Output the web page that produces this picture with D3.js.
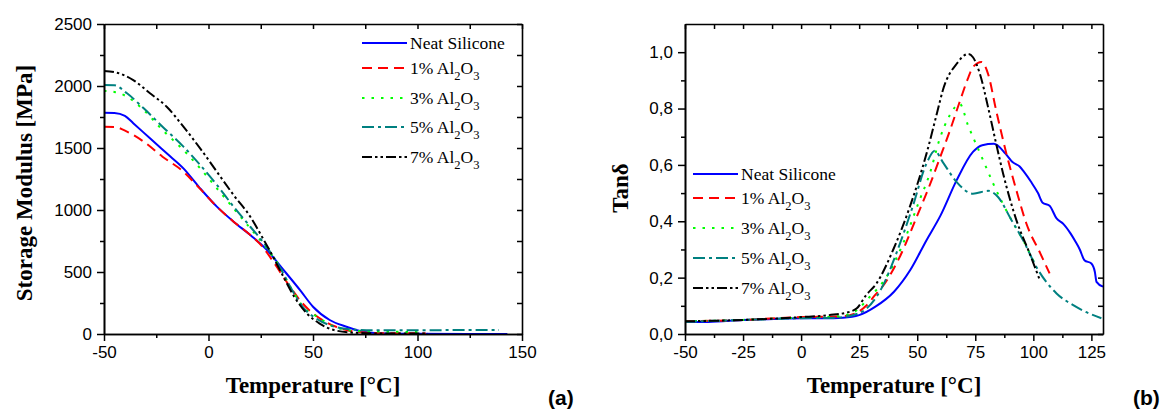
<!DOCTYPE html>
<html>
<head>
<meta charset="utf-8">
<script src="https://cdn.jsdelivr.net/npm/d3@7"></script>
<style>
  body { margin: 0; background: #fff; }
  .axis-title { font-family: "Liberation Serif", "Times New Roman", serif; font-weight: bold; font-size: 23px; }
  .legend text { font-family: "Liberation Serif", "Times New Roman", serif; font-size: 17.5px; }
  .panel-tag { font-family: "Liberation Sans", Arial, sans-serif; font-weight: bold; font-size: 21px; }
</style>
</head>
<body>
<script>
var svgWidth = 1171;
var svgHeight = 410;

// series names + styles
var seriesNames = ["Neat Silicone", "1% Al|2|O|3", "3% Al|2|O|3", "5% Al|2|O|3", "7% Al|2|O|3"];
var seriesColors = ["#0000ff", "#ff0000", "#00ff00", "#008080", "#000000"];
var seriesDash = [null, "10,6", "2.5,7", "12,4,3,4", "10,3,2.5,3,2.5,3"];

// (a) storage modulus [MPa] vs temperature
var modNeat = [[-50,1785],[-45,1783],[-40,1760],[-36,1700],[-28,1578],[-20,1457],[-12,1336],[-4,1175],[4,1027],[12,906],[20,798],[28,677],[35,535],[44,350],[50,220],[58,113],[66,59],[74,19],[82,6],[100,2],[143,0]];
var mod1 = [[-50,1672],[-45,1670],[-39,1632],[-31,1551],[-22,1430],[-12,1309],[-4,1170],[4,1027],[12,906],[20,798],[26,700],[31,583],[39,381],[45,247],[53,129],[60,65],[66,32],[75,12],[82,6],[104,5]];
var mod3 = [[-50,1960],[-45,1952],[-39,1914],[-31,1806],[-22,1645],[-12,1484],[-4,1336],[4,1175],[12,1013],[20,852],[26,731],[34,543],[40,355],[46,207],[52,140],[60,59],[70,25],[80,20],[90,18],[100,15]];
var mod5 = [[-50,2008],[-45,2006],[-39,1941],[-31,1820],[-22,1672],[-12,1511],[-4,1363],[4,1202],[12,1027],[20,865],[26,744],[34,543],[40,355],[46,200],[52,120],[60,60],[70,35],[80,30],[100,30],[120,32],[139,33]];
var mod7 = [[-50,2121],[-44,2108],[-36,2048],[-28,1941],[-20,1833],[-12,1672],[-4,1497],[4,1309],[12,1121],[20,946],[26,772],[30,651],[35,489],[41,301],[47,167],[53,86],[60,32],[70,10],[80,5],[105,5]];

// (b) tan delta vs temperature
var tanNeat = [[-50,0.043],[-40,0.043],[-25,0.050],[-10,0.054],[0,0.056],[10,0.056],[18,0.058],[25,0.067],[32,0.097],[40,0.150],[47,0.227],[54,0.333],[60,0.420],[67,0.546],[74,0.646],[78,0.670],[83,0.675],[88,0.640],[91,0.610],[94,0.595],[96,0.575],[99,0.540],[102,0.500],[104,0.466],[107,0.455],[110,0.410],[113,0.390],[116,0.357],[118,0.330],[120,0.300],[122,0.262],[125,0.250],[126.5,0.220],[127.2,0.185],[130,0.168]];
var tan1 = [[-50,0.045],[-25,0.050],[0,0.060],[15,0.062],[21,0.067],[28,0.100],[32,0.140],[35,0.168],[42.5,0.274],[50,0.420],[55,0.520],[60,0.630],[64,0.720],[68,0.817],[72,0.910],[74,0.947],[77.7,0.965],[80.5,0.923],[84,0.793],[88.4,0.640],[92.7,0.510],[97,0.392],[103,0.286],[107,0.215]];
var tan3 = [[-50,0.045],[-25,0.050],[0,0.058],[15,0.062],[22,0.074],[29.6,0.132],[36.8,0.203],[43.9,0.321],[51,0.475],[55.4,0.569],[59.7,0.693],[64,0.776],[68.3,0.817],[71.9,0.740],[74,0.699],[78.4,0.616],[82.7,0.534],[90.6,0.404],[95.6,0.333],[101.3,0.238]];
var tan5 = [[-50,0.043],[-25,0.050],[0,0.056],[15,0.058],[25,0.074],[35,0.168],[41,0.286],[48,0.451],[54,0.605],[57.6,0.650],[61,0.610],[66.9,0.540],[74,0.498],[80.5,0.508],[84.8,0.486],[90.6,0.404],[95.6,0.333],[101.3,0.238],[110,0.144],[117,0.103],[124,0.073],[129.3,0.056]];
var tan7 = [[-50,0.045],[-25,0.050],[0,0.060],[12,0.067],[21,0.079],[24,0.091],[28,0.138],[32.5,0.180],[39.6,0.298],[46.8,0.451],[54,0.640],[59,0.800],[61,0.864],[67,0.959],[72,0.994],[74,0.982],[77,0.923],[80.5,0.805],[84,0.675],[87,0.569],[92.7,0.404],[98.4,0.286],[102.8,0.191]];

// tick values
var modXMajor = [-50, 0, 50, 100, 150];
var modXMinor = [-25, 25, 75, 125];
var modYMajor = [0, 500, 1000, 1500, 2000, 2500];
var modYMinor = [250, 750, 1250, 1750, 2250];
var tanXMajor = [-50, -25, 0, 25, 50, 75, 100, 125];
var tanXMinor = [-37.5, -12.5, 12.5, 37.5, 62.5, 87.5, 112.5];
var tanYMajor = [0, 0.2, 0.4, 0.6, 0.8, 1.0];
var tanYMinor = [0.1, 0.3, 0.5, 0.7, 0.9];

var svg = d3.select("body")
            .append("svg")
            .attr("width", svgWidth)
            .attr("height", svgHeight);

var panels = [
  {left: 104, top: 24, width: 418, height: 310,
   xDomain: [-50, 150], yDomain: [0, 2500],
   xMajor: modXMajor, xMinor: modXMinor, yMajor: modYMajor, yMinor: modYMinor,
   yFormat: d3.format("d"),
   series: [modNeat, mod1, mod3, mod5, mod7],
   yTitle: "Storage Modulus [MPa]", yTitleX: 24, yTitleY: 183,
   legend: {x: 362, y: 43, rows: [0, 25, 55, 84, 114]},
   tag: "(a)", tagX: 548, tagY: 405},
  {left: 685, top: 24, width: 418, height: 310,
   xDomain: [-50, 130], yDomain: [0, 1.1],
   xMajor: tanXMajor, xMinor: tanXMinor, yMajor: tanYMajor, yMinor: tanYMinor,
   yFormat: function(d) { return d3.format(".1f")(d).replace(".", ","); },
   series: [tanNeat, tan1, tan3, tan5, tan7],
   yTitle: "Tan\u03b4", yTitleX: 620, yTitleY: 188,
   legend: {x: 693, y: 174, rows: [0, 24, 54, 84, 114]},
   tag: "(b)", tagX: 1133, tagY: 405}
];

panels.forEach(function(p, pi) {
  var g = svg.append("g").attr("transform", `translate(${p.left}, ${p.top})`);

  var x = d3.scaleLinear().domain(p.xDomain).range([0, p.width]);
  var y = d3.scaleLinear().domain(p.yDomain).range([p.height, 0]);

  g.append("clipPath").attr("id", "clip" + pi)
   .append("rect").attr("width", p.width).attr("height", p.height);

  // curves
  var line = d3.line()
               .x(d => x(d[0]))
               .y(d => y(d[1]))
               .curve(d3.curveMonotoneX);

  p.series.forEach(function(s, i) {
    g.append("path")
     .datum(s)
     .attr("clip-path", `url(#clip${pi})`)
     .attr("fill", "none")
     .attr("stroke", seriesColors[i])
     .attr("stroke-width", 2)
     .attr("stroke-dasharray", seriesDash[i])
     .attr("d", line);
  });

  // bottom / left axes (ticks outward), top / right (ticks inward)
  function addAxis(axisFn, scale, vals, size, fmt, transform) {
    var a = axisFn(scale).tickValues(vals).tickSizeInner(size).tickSizeOuter(0).tickPadding(5);
    a.tickFormat(fmt || "");
    var ag = g.append("g").attr("transform", transform || null).call(a);
    ag.attr("font-size", 17).attr("font-family", "'Liberation Sans', Arial, sans-serif");
    ag.selectAll("text").attr("fill", "#000");
    ag.selectAll("line").attr("stroke", "#000").attr("stroke-width", 1.5);
    ag.select(".domain").attr("stroke", "#000").attr("stroke-width", 1.6);
    return ag;
  }
  addAxis(d3.axisBottom, x, p.xMajor, 7, d => d, `translate(0, ${p.height})`);
  addAxis(d3.axisBottom, x, p.xMinor, 4, null, `translate(0, ${p.height})`);
  addAxis(d3.axisLeft, y, p.yMajor, 7, p.yFormat);
  addAxis(d3.axisLeft, y, p.yMinor, 4, null);
  addAxis(d3.axisTop, x, p.xMajor.concat(p.xMinor), -5, null);
  addAxis(d3.axisRight, y, p.yMajor.concat(p.yMinor), -5, null, `translate(${p.width}, 0)`);

  // axis titles
  g.append("text")
   .attr("class", "axis-title")
   .attr("x", p.width / 2)
   .attr("y", p.height + 59)
   .attr("text-anchor", "middle")
   .text("Temperature [\u00b0C]");

  svg.append("text")
     .attr("class", "axis-title")
     .attr("transform", `translate(${p.yTitleX + 8}, ${p.yTitleY}) rotate(-90)`)
     .attr("text-anchor", "middle")
     .text(p.yTitle);

  svg.append("text")
     .attr("class", "panel-tag")
     .attr("x", p.tagX)
     .attr("y", p.tagY)
     .text(p.tag);

  // legend
  var lg = svg.append("g").attr("class", "legend");
  seriesNames.forEach(function(name, i) {
    var ly = p.legend.y + p.legend.rows[i];
    lg.append("line")
      .attr("x1", p.legend.x).attr("x2", p.legend.x + 45)
      .attr("y1", ly).attr("y2", ly)
      .attr("stroke", seriesColors[i])
      .attr("stroke-width", 2)
      .attr("stroke-dasharray", seriesDash[i]);
    var t = lg.append("text")
              .attr("x", p.legend.x + 48)
              .attr("y", ly + 6);
    var parts = name.split("|");
    parts.forEach(function(part, k) {
      var sub = k % 2 === 1;
      var ts = t.append("tspan").text(part);
      if (sub) ts.attr("font-size", "12.5px").attr("dy", 6);
      else if (k > 0) ts.attr("dy", -6);
    });
  });
});
</script>
</body>
</html>
